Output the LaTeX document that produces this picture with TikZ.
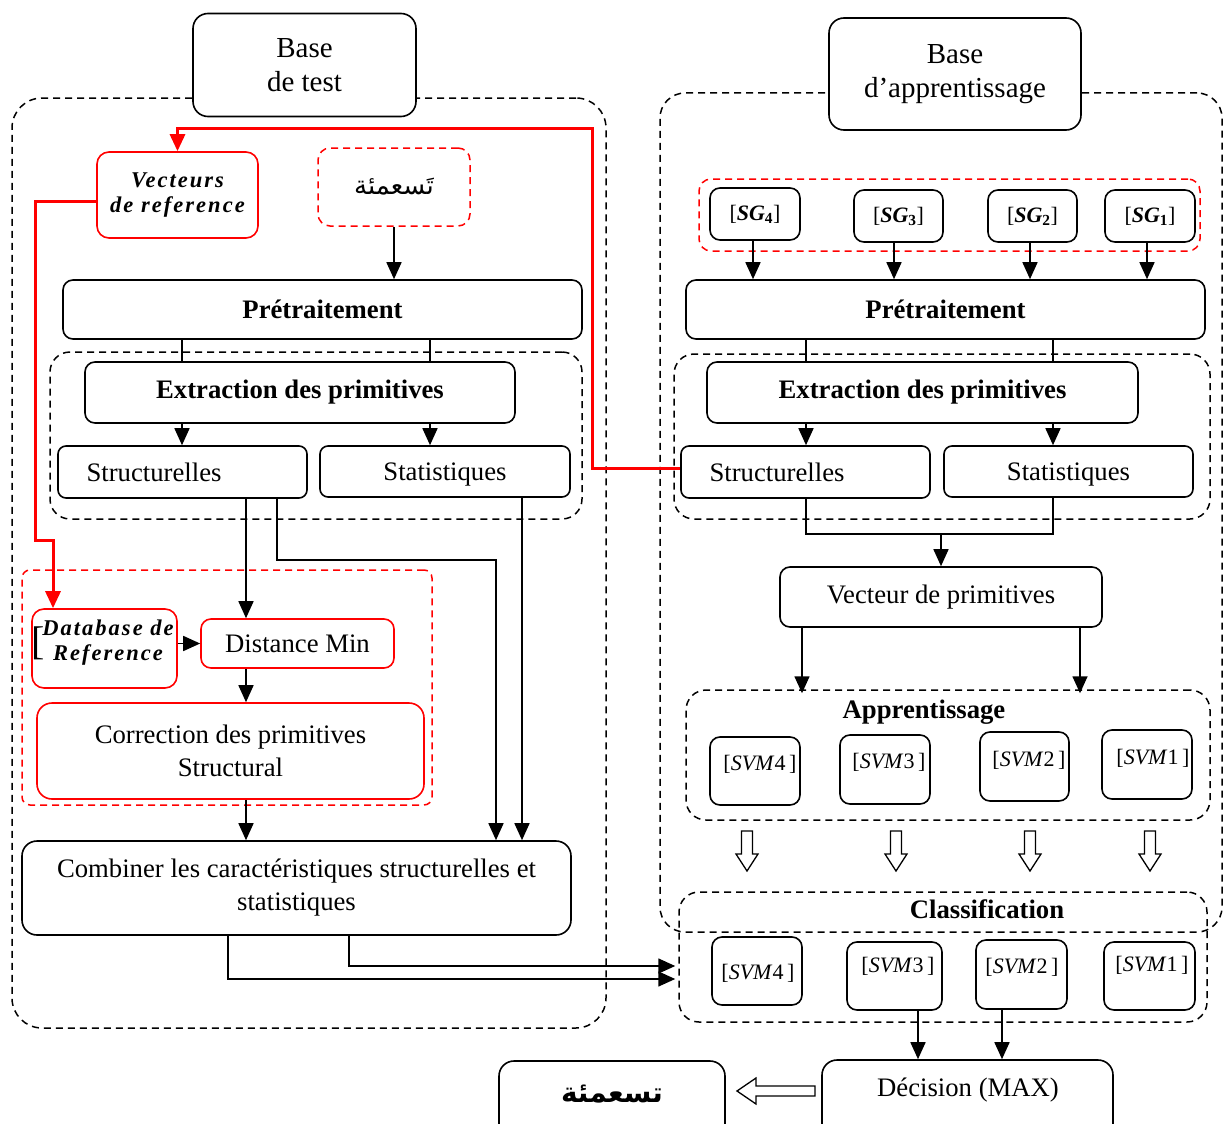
\documentclass[tikz,border=0pt]{standalone}
\usepackage{fontspec}
\setmainfont{Liberation Serif}
\newfontfamily\arabicfont[Script=Arabic]{DejaVu Sans}
\TeXXeTstate=1
\usetikzlibrary{arrows.meta}
\newcommand{\bimath}{\fontsize{22.5}{25}\selectfont\bfseries\itshape\addfontfeature{LetterSpace=9}}
\newcommand{\sgtxt}[1]{{\fontsize{22}{26}\selectfont[\textbf{\textit{SG}\textsubscript{#1}}]}}
\newcommand{\svmtxt}[1]{{\fontsize{22}{26}\selectfont[\textit{SVM}#1\,]}}
\newcommand{\hdown}[2]{\draw[hol, shift={(#1,#2)}] (-5.5,0) -- (5.5,0) -- (5.5,23) -- (11,23) -- (0,40) -- (-11,23) -- (-5.5,23) -- cycle;}
\begin{document}
\begin{tikzpicture}[x=1pt,y=-1pt,
  every node/.style={font=\fontsize{26.7}{33}\selectfont, inner sep=0pt},
  box/.style={draw, rounded corners=10pt, line width=1.6pt, fill=white, align=center},
  rbox/.style={box, draw=red},
  dbox/.style={draw, dash pattern=on 7pt off 5pt, rounded corners=25pt, line width=1.5pt},
  rdbox/.style={dbox, draw=red, rounded corners=12pt},
  ln/.style={line width=1.6pt},
  arr/.style={line width=1.6pt, -{Triangle[length=17pt,width=15pt]}},
  redarr/.style={draw=red, line width=3pt, -{Triangle[length=17pt,width=15pt]}},
  hol/.style={draw, line width=1.3pt, fill=white, line join=miter},
  ttl/.style={font=\fontsize{26.7}{33}\selectfont\bfseries},
  basetxt/.style={font=\fontsize{29}{34}\selectfont},
]
\useasboundingbox (0,0) rectangle (1224,1124);
\clip (0,0) rectangle (1224,1124);

% ---------- containers ----------
\node[dbox, rounded corners=30pt, minimum width=594pt, minimum height=930pt] (leftbig) at (309,563) {};
\node[dbox, minimum width=562pt, minimum height=839pt] (rightbig) at (941,512.5) {};
\node[dbox, rounded corners=20pt, minimum width=532pt, minimum height=167pt] (ext1c) at (316,435.5) {};
\node[dbox, rounded corners=20pt, minimum width=536pt, minimum height=165pt] (ext2c) at (942,436.5) {};
\node[rdbox, rounded corners=8pt, minimum width=410pt, minimum height=235pt] (redc) at (227,687.5) {};
\node[rdbox, minimum width=501pt, minimum height=72pt] (sgc) at (949.5,215) {};
\node[dbox, rounded corners=20pt, minimum width=524pt, minimum height=130pt] (app) at (948,755) {};
\node[dbox, rounded corners=20pt, minimum width=528pt, minimum height=130pt] (cls) at (943,957) {};

% ---------- top boxes ----------
\node[box, basetxt, rounded corners=15pt, minimum width=223pt, minimum height=103pt] (bt) at (304.5,65) {Base\\de test};
\node[box, basetxt, rounded corners=15pt, minimum width=252pt, minimum height=112pt] (ba) at (955,74) {Base\\d’apprentissage};

% ---------- left column ----------
\node[rbox, rounded corners=12pt, minimum width=161pt, minimum height=86pt, font=\bimath] (vr) at (177.5,195) {Vecteurs\\de reference};
\node[rdbox, fill=white, minimum width=152pt, minimum height=78pt] (ar) at (394,187) {\arabicfont\fontsize{26}{30}\selectfont\beginR تَسعمئة\endR};
\node[box, minimum width=519pt, minimum height=59pt] (p1) at (322.5,309.5) {\textbf{Prétraitement}};
\node[box, minimum width=430pt, minimum height=61pt] (e1) at (300,392.5) {\textbf{Extraction des primitives}};
\node[box, rounded corners=8pt, minimum width=249pt, minimum height=52pt] (s1) at (182.5,472) {Structurelles\hspace*{57pt}};
\node[box, rounded corners=8pt, minimum width=250pt, minimum height=51pt, text depth=0pt] (t1) at (445,471.5) {Statistiques};
\node[rbox, rounded corners=12pt, minimum width=145pt, minimum height=79pt] (db) at (104.5,648.5) {};
\node[align=center, font=\bimath] (dbt) at (108,643) {Database de\\Reference};
\node[font=\fontsize{40}{40}\selectfont] (dbb) at (38,643) {[};
\node[rbox, minimum width=193pt, minimum height=49pt] (dm) at (297.5,643.5) {Distance Min};
\node[rbox, rounded corners=15pt, minimum width=387pt, minimum height=96pt] (cp) at (230.5,751) {Correction des primitives\\Structural};
\node[box, rounded corners=15pt, minimum width=549pt, minimum height=94pt] (cb) at (296.5,888) {Combiner les caractéristiques structurelles et\\statistiques};

% ---------- right column ----------
\node[box, minimum width=90pt, minimum height=52pt] (sg4) at (755,214) {\sgtxt{4}};
\node[box, minimum width=89pt, minimum height=52pt] (sg3) at (898.5,216) {\sgtxt{3}};
\node[box, minimum width=89pt, minimum height=52pt] (sg2) at (1032.5,216) {\sgtxt{2}};
\node[box, minimum width=90pt, minimum height=52pt] (sg1) at (1150,216) {\sgtxt{1}};
\node[box, minimum width=519pt, minimum height=59pt] (p2) at (945.5,309.5) {\textbf{Prétraitement}};
\node[box, minimum width=431pt, minimum height=61pt] (e2) at (922.5,392.5) {\textbf{Extraction des primitives}};
\node[box, rounded corners=8pt, minimum width=249pt, minimum height=52pt] (s2) at (805.5,472) {Structurelles\hspace*{57pt}};
\node[box, rounded corners=8pt, minimum width=249pt, minimum height=51pt, text depth=0pt] (t2) at (1068.5,471.5) {Statistiques};
\coordinate (j) at (941,534);
\node[box, minimum width=322pt, minimum height=60pt] (vp) at (941,597) {Vecteur de primitives};

\node[ttl] (appt) at (924,712) {Apprentissage};
\node[box, minimum width=90pt, minimum height=68pt] (a4) at (755,771) {};
\node[box, minimum width=90pt, minimum height=69pt] (a3) at (885,769.5) {};
\node[box, minimum width=89pt, minimum height=69pt] (a2) at (1024.5,766.5) {};
\node[box, minimum width=90pt, minimum height=69pt] (a1) at (1147,764.5) {};
\node (a4t) at (760,764) {\svmtxt{4}};
\node (a3t) at (889,762) {\svmtxt{3}};
\node (a2t) at (1029,760) {\svmtxt{2}};
\node (a1t) at (1153,758) {\svmtxt{1}};

\hdown{747}{831}
\hdown{896}{831}
\hdown{1030}{831}
\hdown{1150}{831}

\node[ttl] (clst) at (987,909) {Classification};
\node[box, minimum width=90pt, minimum height=68pt] (c4) at (757,971) {};
\node[box, minimum width=95pt, minimum height=68pt] (c3) at (894.5,976) {};
\node[box, minimum width=91pt, minimum height=69pt] (c2) at (1021.5,974.5) {};
\node[box, minimum width=91pt, minimum height=68pt] (c1) at (1149.5,976) {};
\node (c4t) at (758,973) {\svmtxt{4}};
\node (c3t) at (898,966) {\svmtxt{3}};
\node (c2t) at (1022,967) {\svmtxt{2}};
\node (c1t) at (1152,965) {\svmtxt{1}};

\node[box, rounded corners=15pt, minimum width=291pt, minimum height=80pt] (dec) at (967.5,1100) {};
\node (dect) at (968,1090) {Décision (MAX)};
\node[box, rounded corners=15pt, minimum width=226pt, minimum height=80pt] (res) at (612,1101) {};
\node (rest) at (612,1094) {\arabicfont\bfseries\fontsize{28}{32}\selectfont\beginR تسعمئة\endR};
\draw[hol, shift={(737,1091)}] (0,0) -- (19,-13) -- (19,-5) -- (78,-5) -- (78,5) -- (19,5) -- (19,13) -- cycle;

% ---------- connectors left ----------
\draw[arr] (ar.south) -- (p1.north -| ar.south);
\draw[ln] (p1.south -| 182,0) -- (e1.north -| 182,0);
\draw[ln] (p1.south -| 430,0) -- (e1.north -| 430,0);
\draw[arr] (e1.south -| 182,0) -- (s1.north -| 182,0);
\draw[arr] (e1.south -| 430,0) -- (t1.north -| 430,0);
\draw[arr] (s1.south -| 246,0) -- (dm.north -| 246,0);
\draw[arr] (s1.south -| 277,0) |- (496,560) -- (cb.north -| 496,0);
\draw[arr] (t1.south -| 522,0) -- (cb.north -| 522,0);
\draw[arr] (db.east |- dm.west) -- (dm.west);
\draw[arr] (dm.south -| 246,0) -- (cp.north -| 246,0);
\draw[arr] (cp.south -| 246,0) -- (cb.north -| 246,0);
\draw[arr] (cb.south -| 228,0) |- ([xshift=-3pt]cls.west |- 0,979);
\draw[arr] (cb.south -| 349,0) |- ([xshift=-3pt]cls.west |- 0,966);

% ---------- red connectors ----------
\draw[redarr] (s2.west |- 0,468) -| (592,128) -| (vr.north);
\draw[redarr] (vr.west |- 0,201) -| (35,540) -| (db.north -| 53,0);

% ---------- connectors right ----------
\draw[arr] (sg4.south -| 753,0) -- (p2.north -| 753,0);
\draw[arr] (sg3.south -| 894,0) -- (p2.north -| 894,0);
\draw[arr] (sg2.south -| 1030,0) -- (p2.north -| 1030,0);
\draw[arr] (sg1.south -| 1147,0) -- (p2.north -| 1147,0);
\draw[ln] (p2.south -| 806,0) -- (e2.north -| 806,0);
\draw[ln] (p2.south -| 1053,0) -- (e2.north -| 1053,0);
\draw[arr] (e2.south -| 806,0) -- (s2.north -| 806,0);
\draw[arr] (e2.south -| 1053,0) -- (t2.north -| 1053,0);
\draw[ln] (s2.south -| 806,0) |- (j) -| (t2.south -| 1053,0);
\draw[arr] (j) -- (vp.north);
\draw[arr] (vp.south -| 802,0) -- ([yshift=-4pt]app.north -| 802,0);
\draw[arr] (vp.south -| 1080,0) -- ([yshift=-4pt]app.north -| 1080,0);
\draw[arr] (c3.south -| 918,0) -- (dec.north -| 918,0);
\draw[arr] (c2.south -| 1002,0) -- (dec.north -| 1002,0);
\end{tikzpicture}
\end{document}
